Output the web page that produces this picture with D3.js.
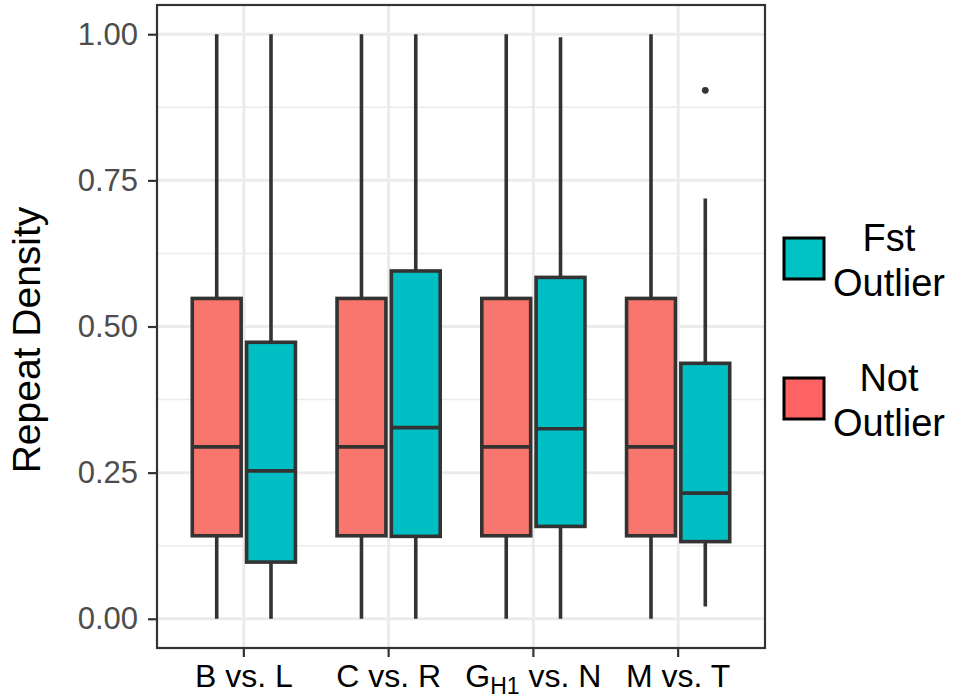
<!DOCTYPE html>
<html lang="en">
<head>
  <meta charset="UTF-8">
  <title>Repeat Density</title>
  <style>
    body { margin: 0; background: #fff; }
    svg { font-family: "Liberation Sans", Arial, Helvetica, sans-serif; }
  </style>
</head>
<body>
<div id="chart"></div>

<script src="https://d3js.org/d3.v7.min.js"></script>
<script>
  // categories and tick labels (subscript marked with _{...})
  const categories = ["BL", "CR", "GN", "MT"];
  const tickLabels = ["B vs. L", "C vs. R", "G_{H1} vs. N", "M vs. T"];
  const groups = ["Not Outlier", "Fst Outlier"];
  const yTicks = [0, 0.25, 0.5, 0.75, 1];

  // box stats, Not Outlier
  const notLow  = [0, 0, 0, 0];
  const notQ1   = [0.142, 0.142, 0.142, 0.142];
  const notMed  = [0.294, 0.294, 0.294, 0.294];
  const notQ3   = [0.548, 0.548, 0.548, 0.548];
  const notHigh = [1, 1, 1, 1];

  // box stats, Fst Outlier
  const fstLow  = [0, 0, 0, 0.021];
  const fstQ1   = [0.097, 0.141, 0.158, 0.132];
  const fstMed  = [0.253, 0.327, 0.325, 0.215];
  const fstQ3   = [0.473, 0.595, 0.584, 0.437];
  const fstHigh = [1, 1, 0.995, 0.719];
  const fstOutliers = [[], [], [], [0.904]];

  const W = 958, H = 700;
  const panel = {left: 157, right: 765, top: 5, bottom: 648};
  const colors = {"Not Outlier": "#F8766D", "Fst Outlier": "#00BFC4"};
  const legendColors = {"Not Outlier": "#FF6262", "Fst Outlier": "#00C2C4"};
  const ink = "#333333";
  const lw = 3.6;

  const boxes = [];
  categories.forEach((c, i) => {
    boxes.push({cat: c, group: groups[0], low: notLow[i], q1: notQ1[i], med: notMed[i], q3: notQ3[i], high: notHigh[i], out: []});
    boxes.push({cat: c, group: groups[1], low: fstLow[i], q1: fstQ1[i], med: fstMed[i], q3: fstQ3[i], high: fstHigh[i], out: fstOutliers[i]});
  });

  const svg = d3.select("#chart").append("svg")
    .attr("width", W)
    .attr("height", H);

  const x = d3.scaleBand()
    .domain(categories)
    .range([panel.left, panel.right])
    .paddingInner(0)
    .paddingOuter(0.1);

  const y = d3.scaleLinear()
    .domain([-0.05, 1.05])
    .range([panel.bottom, panel.top]);

  const step = x.step();
  const sub = d3.scaleBand().domain(groups).range([-0.375 * step, 0.375 * step]).paddingInner(0.1).paddingOuter(0.05);
  const bw = sub.bandwidth();
  const center = d => x(d.cat) + x.bandwidth() / 2;

  // grid
  const minor = d3.range(0.125, 1, 0.25);
  svg.append("g").selectAll("line").data(minor).join("line")
    .attr("x1", panel.left).attr("x2", panel.right)
    .attr("y1", d => y(d)).attr("y2", d => y(d))
    .attr("stroke", "#EBEBEB").attr("stroke-width", 1.5);
  svg.append("g").selectAll("line").data(yTicks).join("line")
    .attr("x1", panel.left).attr("x2", panel.right)
    .attr("y1", d => y(d)).attr("y2", d => y(d))
    .attr("stroke", "#EBEBEB").attr("stroke-width", 3);
  svg.append("g").selectAll("line").data(categories).join("line")
    .attr("x1", d => x(d) + x.bandwidth() / 2).attr("x2", d => x(d) + x.bandwidth() / 2)
    .attr("y1", panel.top).attr("y2", panel.bottom)
    .attr("stroke", "#EBEBEB").attr("stroke-width", 3);

  // boxes
  const g = svg.append("g").selectAll("g").data(boxes).join("g")
    .attr("transform", d => "translate(" + (center(d) + sub(d.group) + bw / 2) + ",0)");

  g.append("line")
    .attr("y1", d => y(d.high)).attr("y2", d => y(d.q3))
    .attr("stroke", ink).attr("stroke-width", lw);
  g.append("line")
    .attr("y1", d => y(d.q1)).attr("y2", d => y(d.low))
    .attr("stroke", ink).attr("stroke-width", lw);
  g.append("rect")
    .attr("x", -bw / 2).attr("width", bw)
    .attr("y", d => y(d.q3)).attr("height", d => y(d.q1) - y(d.q3))
    .attr("fill", d => colors[d.group])
    .attr("stroke", ink).attr("stroke-width", lw);
  g.append("line")
    .attr("x1", -bw / 2).attr("x2", bw / 2)
    .attr("y1", d => y(d.med)).attr("y2", d => y(d.med))
    .attr("stroke", ink).attr("stroke-width", lw);
  g.selectAll("circle").data(d => d.out).join("circle")
    .attr("cy", d => y(d)).attr("r", 3.4).attr("fill", ink);

  // panel border
  svg.append("rect")
    .attr("x", panel.left).attr("y", panel.top)
    .attr("width", panel.right - panel.left).attr("height", panel.bottom - panel.top)
    .attr("fill", "none").attr("stroke", ink).attr("stroke-width", 2.2);

  // y axis
  const yAxis = svg.append("g")
    .attr("transform", "translate(" + panel.left + ",0)")
    .call(d3.axisLeft(y).tickValues(yTicks).tickFormat(d3.format(".2f")).tickSize(9).tickPadding(10));
  yAxis.select(".domain").remove();
  yAxis.selectAll(".tick line").attr("stroke", ink).attr("stroke-width", 2.2);
  yAxis.selectAll(".tick text")
    .attr("fill", "#4D4D4D").style("font-size", "31px").style("font-family", "Liberation Sans, Arial, sans-serif");

  // x axis
  const xAxis = svg.append("g")
    .attr("transform", "translate(0," + panel.bottom + ")")
    .call(d3.axisBottom(x).tickSize(9).tickFormat(""));
  xAxis.select(".domain").remove();
  xAxis.selectAll(".tick line").attr("stroke", ink).attr("stroke-width", 2.2);
  xAxis.selectAll(".tick").each(function(d, i) {
    const t = d3.select(this).append("text")
      .attr("y", 39).attr("text-anchor", "middle")
      .attr("fill", "#000").style("font-size", "32px");
    const m = tickLabels[i].match(/^(.*?)_\{(.*?)\}(.*)$/);
    if (m) {
      t.append("tspan").text(m[1]);
      t.append("tspan").text(m[2]).attr("dy", 7).style("font-size", "23px");
      t.append("tspan").text(m[3]).attr("dy", -7);
    } else {
      t.text(tickLabels[i]);
    }
  });

  // y title
  svg.append("text")
    .attr("transform", "translate(40," + 340 + ") rotate(-90)")
    .attr("text-anchor", "middle")
    .style("font-size", "39px")
    .text("Repeat Density");

  // legend
  const legendItems = [
    {group: "Fst Outlier", lines: ["Fst", "Outlier"], top: 238},
    {group: "Not Outlier", lines: ["Not", "Outlier"], top: 378}
  ];
  const lg = svg.append("g").selectAll("g").data(legendItems).join("g");
  lg.append("rect")
    .attr("x", 784).attr("y", d => d.top)
    .attr("width", 40).attr("height", 41)
    .attr("fill", d => legendColors[d.group])
    .attr("stroke", "#000").attr("stroke-width", 3);
  lg.append("text")
    .attr("text-anchor", "middle")
    .style("font-size", "38px")
    .selectAll("tspan").data(d => d.lines.map((l, j) => ({l, j, top: d.top}))).join("tspan")
    .attr("x", 889)
    .attr("y", d => d.top + 13 + d.j * 45)
    .text(d => d.l);
</script>
</body>
</html>
